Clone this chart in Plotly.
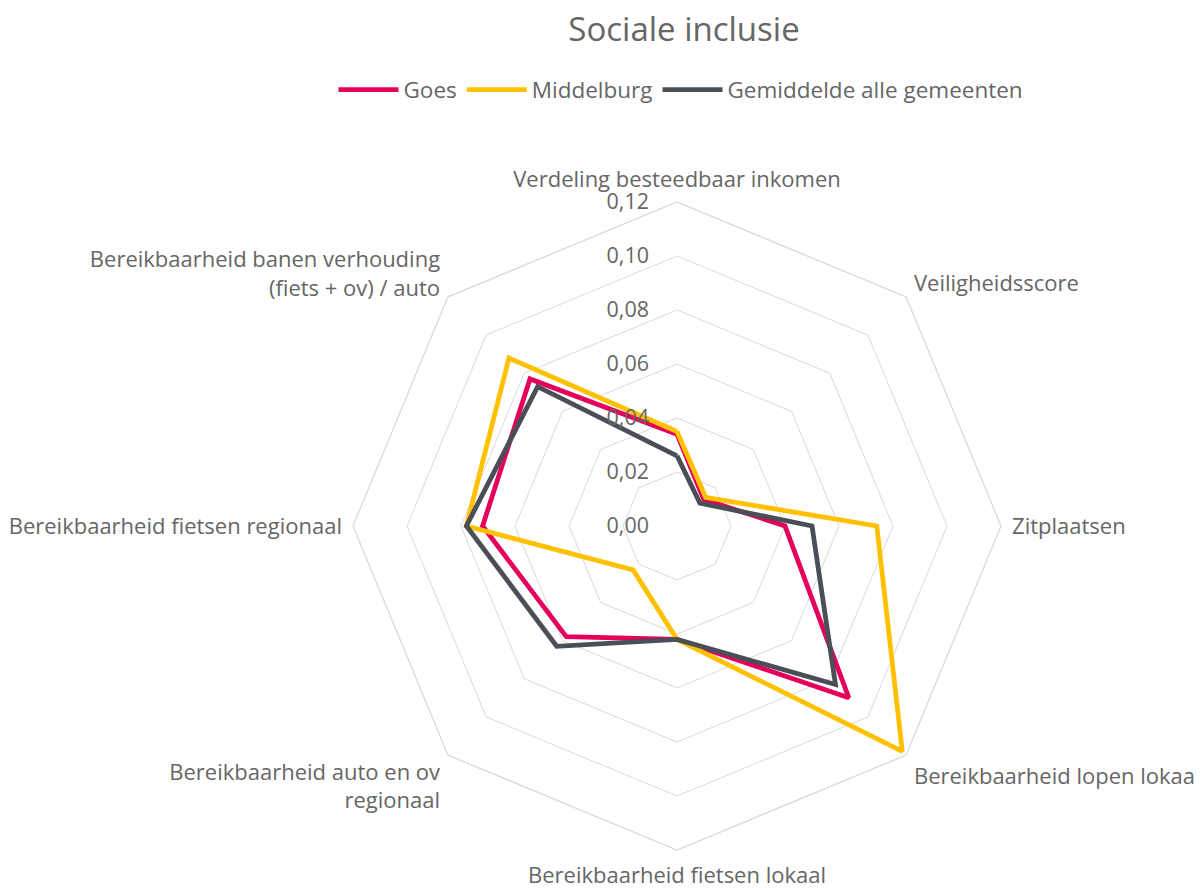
import plotly.graph_objects as go

# ---------------------------------------------------
# Data
# ---------------------------------------------------

CATEGORIES = [
    "Verdeling besteedbaar inkomen",
    "Veiligheidsscore",
    "Zitplaatsen",
    "Bereikbaarheid lopen lokaal",
    "Bereikbaarheid fietsen lokaal",
    "Bereikbaarheid auto en ov<br>regionaal",
    "Bereikbaarheid fietsen regionaal",
    "Bereikbaarheid banen verhouding<br>(fiets + ov) / auto",
]

GOES = [0.034, 0.014, 0.040, 0.090, 0.042, 0.058, 0.072, 0.077]
MIDDELBURG = [0.035, 0.015, 0.074, 0.118, 0.042, 0.023, 0.078, 0.088]
GEMIDDELDE = [0.026, 0.012, 0.050, 0.083, 0.042, 0.063, 0.078, 0.073]

SERIES = [
    ("Goes", GOES, "#E5005B"),
    ("Middelburg", MIDDELBURG, "#FFC000"),
    ("Gemiddelde alle gemeenten", GEMIDDELDE, "#4A4F57"),
]

TICK_VALS = [0.0, 0.02, 0.04, 0.06, 0.08, 0.10, 0.12]

TEXT = "#666666"
GRID = "#D9D9D9"
FONT = "Open Sans"

# ---------------------------------------------------
# Figure
# ---------------------------------------------------

fig = go.Figure()
for name, vals, color in SERIES:
    fig.add_trace(
        go.Scatterpolar(
            r=vals + vals[:1],
            theta=CATEGORIES + CATEGORIES[:1],
            mode="lines",
            name=name,
            line={"color": color, "width": 4.8},
        )
    )

W, H = 1203, 890
cx, cy, rad = 669, 518, 324

fig.update_layout(
    width=W,
    height=H,
    separators=",.",
    paper_bgcolor="white",
    plot_bgcolor="white",
    font={"family": FONT, "color": TEXT, "size": 21},
    margin={"l": 0, "r": 0, "t": 0, "b": 0},
    title={
        "text": "Sociale inclusie",
        "x": 676 / W,
        "xanchor": "center",
        "y": 1 - 10 / H,
        "yanchor": "top",
        "font": {"size": 33, "color": TEXT},
    },
    legend={
        "orientation": "h",
        "x": 673 / W,
        "xanchor": "center",
        "y": 1 - 82 / H,
        "yanchor": "middle",
        "font": {"size": 22.5, "color": TEXT},
        "itemwidth": 60,
        "traceorder": "normal",
    },
    polar={
        "domain": {
            "x": [(cx - rad) / W, (cx + rad) / W],
            "y": [(H - cy - rad) / H, (H - cy + rad) / H],
        },
        "gridshape": "linear",
        "bgcolor": "white",
        "radialaxis": {
            "range": [0, 0.12],
            "tickvals": TICK_VALS,
            "tickformat": ".2f",
            "angle": 90,
            "tickangle": 90,
            "side": "counterclockwise",
            "showline": False,
            "ticks": "outside",
            "ticklen": 20,
            "tickcolor": "rgba(0,0,0,0)",
            "gridcolor": GRID,
            "gridwidth": 1.3,
            "tickfont": {"size": 21.5, "color": TEXT},
        },
        "angularaxis": {
            "direction": "clockwise",
            "rotation": 90,
            "showgrid": False,
            "linecolor": GRID,
            "linewidth": 1.3,
            "ticks": "outside",
            "ticklen": 6,
            "tickcolor": "rgba(0,0,0,0)",
            "tickfont": {"size": 22, "color": TEXT},
        },
    },
)

fig.write_html("out.html")
